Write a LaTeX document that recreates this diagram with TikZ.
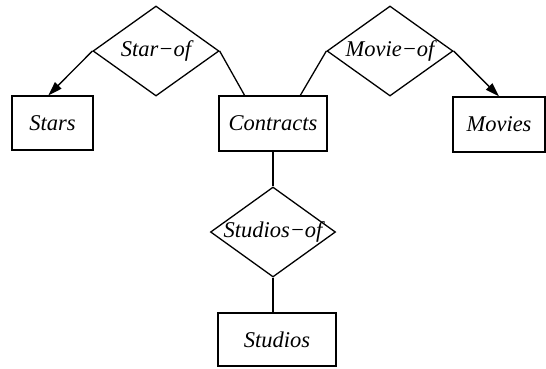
\documentclass[tikz,border=0pt]{standalone}
\usepackage{fontspec}
\setmainfont{Liberation Serif}
\usetikzlibrary{shapes.geometric,arrows.meta,calc}
\begin{document}
\begin{tikzpicture}[x=1pt,y=-1pt,
  ent/.style={draw,line width=1.3pt,rectangle,inner sep=0pt,font=\fontsize{22.5}{26}\selectfont\itshape},
  rel/.style={draw,line width=1.3pt,diamond,inner sep=0pt,minimum width=126pt,minimum height=90pt},
  lbl/.style={inner sep=0pt,font=\fontsize{22.5}{26}\selectfont\itshape},
  conn/.style={line width=1.3pt},
  arr/.style={line width=1.3pt,-{Triangle[length=14pt,width=9pt]}}]
\useasboundingbox (0,0) rectangle (546,368);
% entities
\node[ent,minimum width=81pt,minimum height=54pt] (stars) at (52.5,123) {Stars};
\node[ent,minimum width=108pt,minimum height=55pt] (contracts) at (273,123.5) {Contracts};
\node[ent,minimum width=92pt,minimum height=55pt] (movies) at (499,124.5) {Movies};
\node[ent,minimum width=118pt,minimum height=53pt] (studios) at (277,339.5) {Studios};
% relationships
\node[rel] (starof) at (156,51) {};
\node[lbl] at (starof) {Star−of};
\node[rel] (movieof) at (390,51) {};
\node[lbl] at (movieof) {Movie−of};
\node[rel,minimum width=125pt] (studiosof) at (273,232) {};
\node[lbl] at (studiosof) {Studios−of};
% connectors
\coordinate (starsin) at ($(stars.north west)!0.45!(stars.north east)$);
\coordinate (contrL) at ($(contracts.north west)!0.24!(contracts.north east)$);
\coordinate (contrR) at ($(contracts.north west)!0.75!(contracts.north east)$);
\coordinate (studtop) at (studiosof.south |- studios.north);
\draw[arr] (starof.west) -- (starsin);
\draw[conn] (starof.east) -- (contrL);
\draw[conn] (movieof.west) -- (contrR);
\draw[arr] (movieof.east) -- (movies.north);
\draw[conn] (contracts.south) -- (studiosof.north);
\draw[conn] (studiosof.south) -- (studtop);
\end{tikzpicture}
\end{document}
